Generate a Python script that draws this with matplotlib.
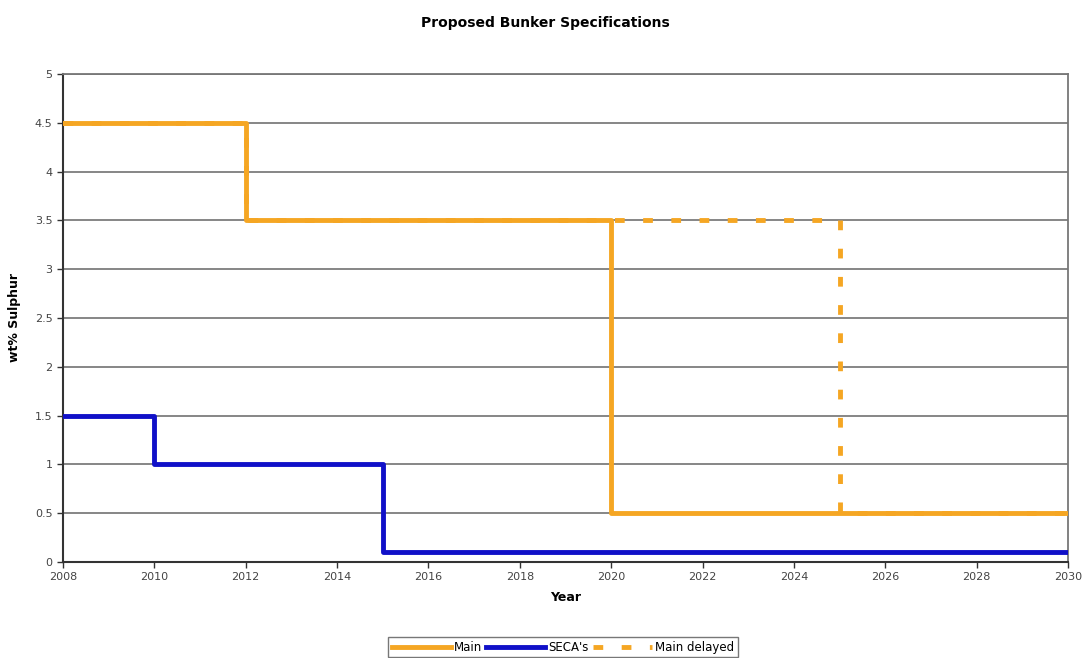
import matplotlib.pyplot as plt

# === Bunker sulphur limits (wt% S) by year ===
main_years = [2008, 2012, 2020, 2030]
main_sulphur = [4.5, 3.5, 0.5, 0.5]

seca_years = [2008, 2010, 2015, 2030]
seca_sulphur = [1.5, 1.0, 0.1, 0.1]

delayed_years = [2008, 2012, 2025, 2030]
delayed_sulphur = [4.5, 3.5, 0.5, 0.5]

x_ticks = list(range(2008, 2031, 2))
y_ticks = [0, 0.5, 1, 1.5, 2, 2.5, 3, 3.5, 4, 4.5, 5]
y_labels = ["0", "0.5", "1", "1.5", "2", "2.5", "3", "3.5", "4", "4.5", "5"]

orange = "#F5A623"
blue = "#1010C8"

fig = plt.figure(figsize=(10.91, 6.58), dpi=100)
ax = fig.add_axes([0.0577, 0.146, 0.9213, 0.7415])

ax.step(main_years, main_sulphur, where="post", color=orange, linewidth=3.5,
        label="Main", zorder=3)
ax.step(seca_years, seca_sulphur, where="post", color=blue, linewidth=3.5,
        label="SECA's", zorder=3)
ax.step(delayed_years, delayed_sulphur, where="post", color=orange,
        linewidth=3.5, linestyle=(0, (2.0, 3.8)), label="Main delayed",
        zorder=4)

ax.set_xlim(2008, 2030)
ax.set_ylim(0, 5)
ax.set_xticks(x_ticks)
ax.set_xticklabels([str(t) for t in x_ticks], fontsize=8, color="#444444")
ax.set_yticks(y_ticks)
ax.set_yticklabels(y_labels, fontsize=8, color="#444444")
ax.tick_params(axis="both", direction="out", length=4, width=1,
               color="#333333")

ax.yaxis.grid(True, color="#666666", linewidth=1.1)
ax.set_axisbelow(True)

for side in ["top", "right"]:
    ax.spines[side].set_color("#777777")
    ax.spines[side].set_linewidth(1.3)
for side in ["left", "bottom"]:
    ax.spines[side].set_color("#333333")
    ax.spines[side].set_linewidth(1.5)

ax.set_xlabel("Year", fontsize=9, fontweight="bold", labelpad=6)
ax.set_ylabel("wt% Sulphur", fontsize=9, fontweight="bold", labelpad=10)
fig.suptitle("Proposed Bunker Specifications", fontsize=10,
             fontweight="bold", y=0.975)

leg = fig.legend(loc="center", bbox_to_anchor=(0.516, 0.0165), ncol=3,
                 fontsize=8.5, frameon=True, fancybox=False,
                 handlelength=5.0, handletextpad=0.3, columnspacing=0.3,
                 borderpad=0.3, borderaxespad=0)
leg.get_frame().set_edgecolor("#555555")
leg.get_frame().set_linewidth(1.0)

fig.savefig("out.png", dpi=100)
